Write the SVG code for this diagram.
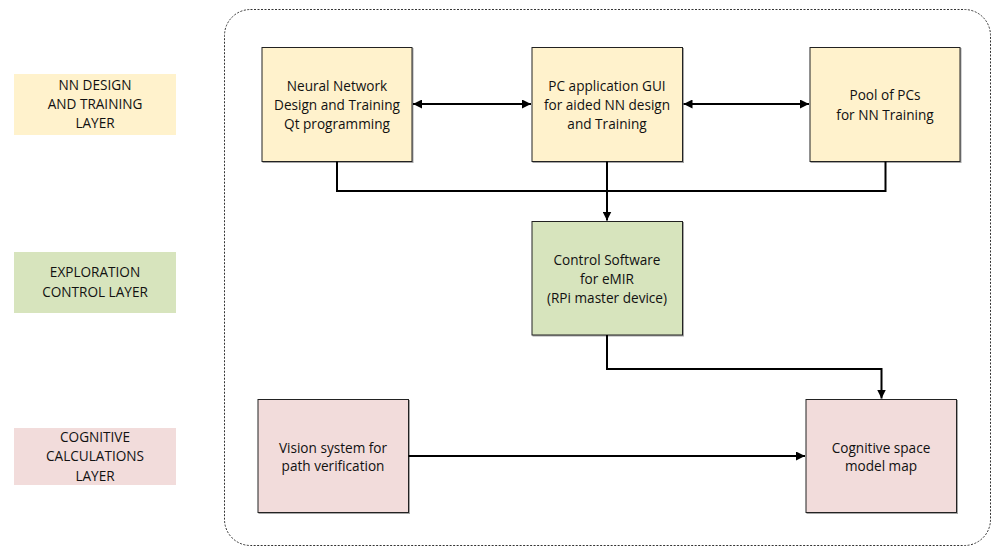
<svg xmlns="http://www.w3.org/2000/svg" width="993" height="547" viewBox="0 0 993 547">
<style>
text{font-family:"Open Sans","Liberation Sans",sans-serif;font-size:13.6px;fill:#111;text-anchor:middle}
.box{stroke:#222;stroke-width:1}
.y{fill:#FFF2CC}.g{fill:#D7E4BD}.p{fill:#F2DCDB}
.conn{fill:none;stroke:#000;stroke-width:2}
</style>
<defs>
<marker id="ah" viewBox="0 0 10 10" refX="10" refY="5" markerWidth="4.5" markerHeight="4.5" orient="auto-start-reverse" markerUnits="strokeWidth">
<path d="M0,0 L10,5 L0,10 z" fill="#000"/>
</marker>
<filter id="sh" x="-5%" y="-5%" width="115%" height="115%"><feDropShadow dx="1" dy="1" stdDeviation="0.6" flood-color="#000" flood-opacity="0.35"/></filter>
</defs>
<rect x="224.5" y="9.5" width="766" height="536" rx="26" ry="26" fill="none" stroke="#333" stroke-width="1" stroke-dasharray="2,1.5"/>
<g id="layer-nn"><rect x="14" y="74" width="162" height="61" class="y"/><text x="95" y="90">NN DESIGN</text><text x="95" y="109">AND TRAINING</text><text x="95" y="128">LAYER</text></g>
<g id="layer-exp"><rect x="14" y="252" width="162" height="61" class="g"/><text x="95" y="277">EXPLORATION</text><text x="95" y="296.5">CONTROL LAYER</text></g>
<g id="layer-cog"><rect x="14" y="428" width="162" height="57" class="p"/><text x="95" y="442">COGNITIVE</text><text x="95" y="461">CALCULATIONS</text><text x="95" y="480.5">LAYER</text></g>
<g id="nn"><rect x="262" y="47.5" width="150" height="114" class="box y" filter="url(#sh)"/><text x="337" y="90.5">Neural Network</text><text x="337" y="109.5">Design and Training</text><text x="337" y="128.5">Qt programming</text></g>
<g id="gui"><rect x="532" y="47.5" width="150.5" height="114" class="box y" filter="url(#sh)"/><text x="607" y="90.5">PC application GUI</text><text x="607" y="109.5">for aided NN design</text><text x="607" y="128.5">and Training</text></g>
<g id="pool"><rect x="810" y="47.5" width="150" height="114" class="box y" filter="url(#sh)"/><text x="885" y="100">Pool of PCs</text><text x="885" y="119.5">for NN Training</text></g>
<g id="ctrl"><rect x="532" y="221.5" width="150.5" height="113.5" class="box g" filter="url(#sh)"/><text x="607" y="265">Control Software</text><text x="607" y="284">for eMIR</text><text x="607" y="303">(RPi master device)</text></g>
<g id="vision"><rect x="258" y="399.5" width="150.5" height="113" class="box p" filter="url(#sh)"/><text x="333" y="452.5">Vision system for</text><text x="333" y="471">path verification</text></g>
<g id="cog"><rect x="806" y="399.5" width="150.5" height="113" class="box p" filter="url(#sh)"/><text x="881" y="452.5">Cognitive space</text><text x="881" y="471">model map</text></g>
<g id="connectors">
<path class="conn" d="M413,104 H531" marker-start="url(#ah)" marker-end="url(#ah)"/>
<path class="conn" d="M683.5,104 H809" marker-start="url(#ah)" marker-end="url(#ah)"/>
<path class="conn" d="M337,161.5 V191 H885.5 V161.5"/>
<path class="conn" d="M607,161.5 V220.5" marker-end="url(#ah)"/>
<path class="conn" d="M607,335 V369 H881.5 V398.5" marker-end="url(#ah)"/>
<path class="conn" d="M408.5,456 H805" marker-end="url(#ah)"/>
</g>
</svg>
